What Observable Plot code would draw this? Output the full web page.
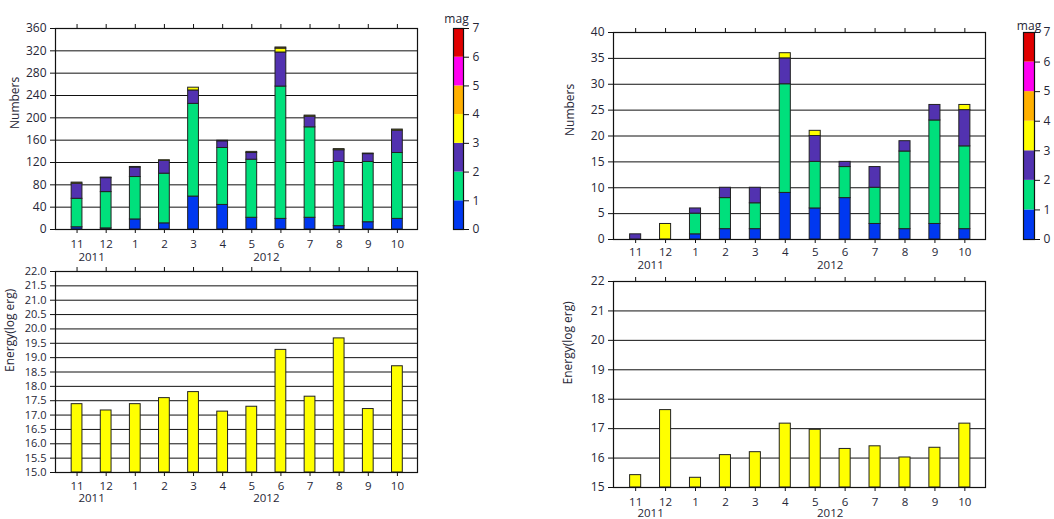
<!DOCTYPE html>
<html><head><meta charset="utf-8">
<script src="https://cdn.jsdelivr.net/npm/d3@7"></script>
<script src="https://cdn.jsdelivr.net/npm/@observablehq/plot@0.6"></script>
<style>
html,body{margin:0;padding:0;background:#fff;}
body{width:1054px;height:519px;overflow:hidden;position:relative;font-family:"Open Sans",sans-serif;}
.p{position:absolute;}
.p svg{overflow:visible;}
</style></head><body>
<div id="tl" class="p" style="left:0;top:0"></div>
<div id="tlc" class="p" style="left:440px;top:0"></div>
<div id="bl" class="p" style="left:0;top:250px"></div>
<div id="tr" class="p" style="left:560px;top:0"></div>
<div id="trc" class="p" style="left:1010px;top:0"></div>
<div id="br" class="p" style="left:560px;top:250px"></div>
<script>
// ---- categories ----
const months = ["11","12","1","2","3","4","5","6","7","8","9","10"];
const monthYears = [2011,2011,2012,2012,2012,2012,2012,2012,2012,2012,2012,2012];
const magClasses = [0,1,2,3,4,5,6];
const magTicks = [0,1,2,3,4,5,6,7];
const magColors = ["#0038f0","#00e07c","#5232b0","#ffff00","#ffb000","#ff00f0","#e00000"];

// ---- left: monthly counts by magnitude class ----
const leftMag0 = [4,2,18,11,59,44,21,19,21,6,13,19];
const leftMag1 = [51,65,76,89,166,102,104,237,162,115,108,118];
const leftMag2 = [27,25,17,23,24,12,12,61,19,21,14,40];
const leftMag3 = [2,1,1,1,5,1,2,7,2,2,1,2];
const leftMag4 = [0,0,0,0,0,0,0,2,0,0,0,0];
const leftEnergy = [17.38,17.16,17.38,17.59,17.80,17.12,17.29,19.27,17.64,19.67,17.21,18.70];
const leftNumberTicks = [0,40,80,120,160,200,240,280,320,360];
const leftEnergyTicks = [15.0,15.5,16.0,16.5,17.0,17.5,18.0,18.5,19.0,19.5,20.0,20.5,21.0,21.5,22.0];

// ---- right: monthly counts by magnitude class ----
const rightMag0 = [0,0,1,2,2,9,6,8,3,2,3,2];
const rightMag1 = [0,0,4,6,5,21,9,6,7,15,20,16];
const rightMag2 = [1,0,1,2,3,5,5,1,4,2,3,7];
const rightMag3 = [0,3,0,0,0,1,1,0,0,0,0,1];
const rightEnergy = [15.42,17.63,15.33,16.10,16.20,17.17,16.96,16.31,16.40,16.02,16.35,17.17];
const rightNumberTicks = [0,5,10,15,20,25,30,35,40];
const rightEnergyTicks = [15,16,17,18,19,20,21,22];

const idx = months.map((_, i) => i);
const years = Array.from(new Set(monthYears));
const yearPos = years.map(y => d3.mean(idx.filter(i => monthYears[i] === y)));
const HW = 0.185;
const INK = "#111";
const TXT = "#262636";
const FONT = "'Open Sans', sans-serif";

function stackRows(series) {
  const rows = [];
  idx.forEach(i => {
    let c = 0;
    series.forEach((s, k) => {
      const v = s[i];
      if (v > 0) rows.push({i, mag: k, y1: c, y2: c + v});
      c += v;
    });
  });
  return rows;
}

function panel(cfg) {
  const yT = cfg.yTicks;
  const marks = [
    Plot.ruleY(yT, {stroke: INK, strokeWidth: 1}),
    cfg.bars,
    Plot.frame({stroke: INK, strokeWidth: 1.2}),
    Plot.axisY({ticks: yT, tickSize: 5, tickPadding: 4, tickFormat: cfg.yFmt, label: null, stroke: INK, fontSize: cfg.yFont || 12}),
    Plot.axisX({anchor: "top", ticks: idx, tickSize: 5, tickFormat: () => "", label: null, stroke: INK}),
    Plot.axisX({anchor: "bottom", ticks: idx, tickSize: 4, tickPadding: cfg.mPad, tickFormat: i => months[i], label: null, stroke: INK, fontSize: 11.5}),
    Plot.axisX({anchor: "bottom", ticks: yearPos, tickSize: 0, tickPadding: cfg.yPad, tickFormat: (p) => String(years[yearPos.indexOf(p)]), label: null, fontSize: 11.5}),
    Plot.text([cfg.label], {frameAnchor: "left", rotate: -90, dx: cfg.labelDx, fontSize: 12, fill: TXT})
  ];
  const svg = Plot.plot({
    width: cfg.w, height: cfg.h,
    marginLeft: cfg.ml, marginRight: cfg.mr, marginTop: cfg.mt, marginBottom: cfg.mb,
    style: {fontFamily: FONT, fontSize: "12px", color: TXT, background: "transparent", overflow: "visible"},
    x: {domain: [-0.74, 11.69]},
    y: {domain: [yT[0], yT[yT.length - 1]]},
    color: {type: "identity"},
    marks
  });
  document.getElementById(cfg.el).appendChild(svg);
}

function countBars(series) {
  return Plot.rect(stackRows(series), {
    x1: d => d.i - HW, x2: d => d.i + HW, y1: "y1", y2: "y2",
    fill: d => magColors[d.mag], stroke: "#222", strokeWidth: 1
  });
}
function energyBars(values, base) {
  return Plot.rect(values, {
    x1: (d, i) => i - HW, x2: (d, i) => i + HW, y1: () => base, y2: d => d,
    fill: "#ffff00", stroke: "#222", strokeWidth: 1
  });
}
function colorbar(cfg) {
  const svg = Plot.plot({
    width: cfg.w, height: cfg.h,
    marginLeft: cfg.ml, marginRight: cfg.mr, marginTop: cfg.mt, marginBottom: cfg.mb,
    style: {fontFamily: FONT, fontSize: "12px", color: TXT, background: "transparent", overflow: "visible"},
    x: {axis: null},
    y: {domain: [magTicks[0], magTicks[magTicks.length - 1]]},
    color: {type: "identity"},
    marks: [
      Plot.rect(magClasses, {y1: d => d, y2: d => d + 1, fill: d => magColors[d]}),
      Plot.frame({stroke: INK, strokeWidth: 1.2}),
      Plot.axisY({anchor: "right", ticks: magTicks, tickSize: 5, tickPadding: 4, tickFormat: d3.format("d"), label: null, stroke: INK}),
      Plot.text(["mag"], {frameAnchor: "top", dy: cfg.magDy, dx: cfg.magDx, fill: TXT, fontSize: 12})
    ]
  });
  document.getElementById(cfg.el).appendChild(svg);
}

panel({el: "tl", w: 430, h: 270, ml: 55, mr: 13, mt: 28, mb: 41, yTicks: leftNumberTicks, yFmt: d3.format("d"),
  bars: countBars([leftMag0, leftMag1, leftMag2, leftMag3, leftMag4]), label: "Numbers", labelDx: -40, mPad: 6, yPad: 23});
panel({el: "bl", w: 430, h: 269, ml: 55, mr: 13, mt: 21, mb: 47, yTicks: leftEnergyTicks, yFmt: d3.format(".1f"), yFont: 11,
  bars: energyBars(leftEnergy, leftEnergyTicks[0]), label: "Energy(log erg)", labelDx: -45, mPad: 5, yPad: 21});
panel({el: "tr", w: 440, h: 270, ml: 53, mr: 15, mt: 32, mb: 31, yTicks: rightNumberTicks, yFmt: d3.format("d"),
  bars: countBars([rightMag0, rightMag1, rightMag2, rightMag3]), label: "Numbers", labelDx: -43, mPad: 4, yPad: 21});
panel({el: "br", w: 440, h: 269, ml: 53, mr: 15, mt: 31, mb: 32, yTicks: rightEnergyTicks, yFmt: d3.format("d"),
  bars: energyBars(rightEnergy, rightEnergyTicks[0]), label: "Energy(log erg)", labelDx: -45, mPad: 6, yPad: 21});
colorbar({el: "tlc", w: 60, h: 270, ml: 13, mr: 37, mt: 28, mb: 41, magDy: -14, magDx: -2});
colorbar({el: "trc", w: 44, h: 270, ml: 13, mr: 20, mt: 32, mb: 31, magDy: -11, magDx: 0});
</script>
</body></html>
